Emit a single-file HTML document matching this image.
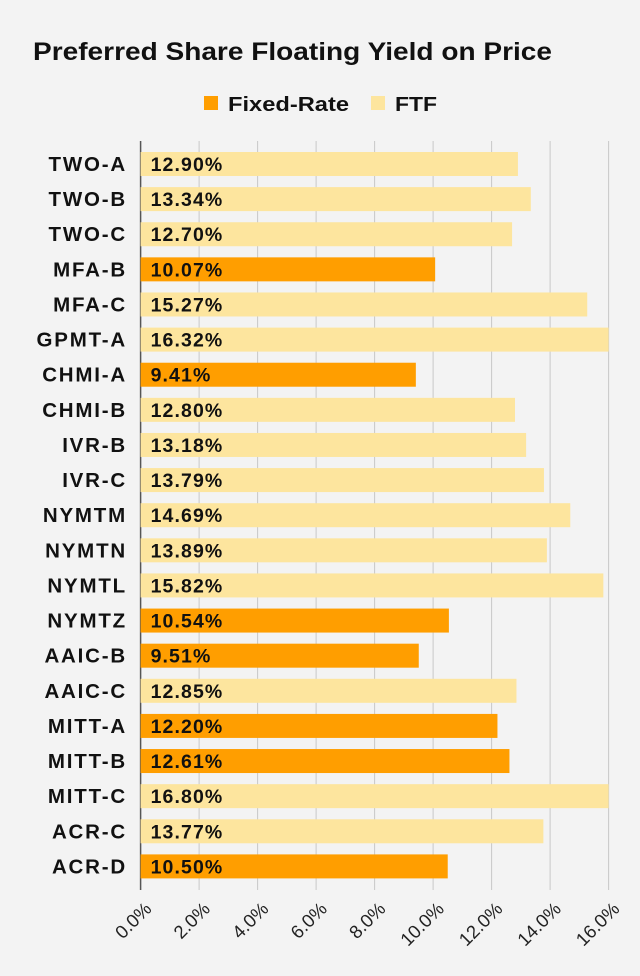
<!DOCTYPE html>
<html><head><meta charset="utf-8"><style>
body{margin:0;background:#f3f3f3;}
svg{display:block;font-family:"Liberation Sans",sans-serif;}
</style></head><body>
<svg width="640" height="976">
<rect width="640" height="976" fill="#f3f3f3"/>
<text x="33" y="60" font-size="25" font-weight="bold" fill="#111" textLength="519" lengthAdjust="spacingAndGlyphs">Preferred Share Floating Yield on Price</text>
<g>
<g><rect x="204" y="96" width="14" height="14" fill="#ff9e00"/><text x="228" y="111" font-size="20" font-weight="bold" fill="#111" textLength="121" lengthAdjust="spacingAndGlyphs">Fixed-Rate</text></g>
<g><rect x="371" y="96" width="14" height="14" fill="#fde59e"/><text x="395" y="111" font-size="20" font-weight="bold" fill="#111" textLength="42" lengthAdjust="spacingAndGlyphs">FTF</text></g>
</g>
<g id="grid"></g><g id="bars"></g><g id="axis"></g>
</svg>
<script>
const categories=["TWO-A","TWO-B","TWO-C","MFA-B","MFA-C","GPMT-A","CHMI-A","CHMI-B","IVR-B","IVR-C","NYMTM","NYMTN","NYMTL","NYMTZ","AAIC-B","AAIC-C","MITT-A","MITT-B","MITT-C","ACR-C","ACR-D"];
const values=[12.90,13.34,12.70,10.07,15.27,16.32,9.41,12.80,13.18,13.79,14.69,13.89,15.82,10.54,9.51,12.85,12.20,12.61,16.80,13.77,10.50];
const types=["FTF","FTF","FTF","Fixed","FTF","FTF","Fixed","FTF","FTF","FTF","FTF","FTF","FTF","Fixed","Fixed","FTF","Fixed","Fixed","FTF","FTF","Fixed"];
const ticks=[0,2,4,6,8,10,12,14,16];
const tickLabels=["0.0%","2.0%","4.0%","6.0%","8.0%","10.0%","12.0%","14.0%","16.0%"];
const NS="http://www.w3.org/2000/svg";
const x0=140.6,x1=608.6,xmax=16;
const xs=v=>x0+Math.min(v,xmax)/xmax*(x1-x0);
const yc=i=>164+i*35.12;
function mk(t,a,p){const e=document.createElementNS(NS,t);for(const k in a)e.setAttribute(k,a[k]);p.appendChild(e);return e;}
const grid=document.getElementById('grid'),bars=document.getElementById('bars'),axis=document.getElementById('axis');
ticks.forEach((t,i)=>{
 const l=mk('line',{x1:xs(t),x2:xs(t),y1:141,y2:890,stroke:i==0?'#555':'#c8c8c8','stroke-width':i==0?1.5:1},grid);
 
 
 const tx=xs(t)+12,ty=910;
 const tl=mk('text',{x:tx,y:ty,'font-size':18.5,fill:'#222','text-anchor':'end',transform:`rotate(-45 ${tx} ${ty})`},axis);
 tl.textContent=tickLabels[i];
 
 
});
categories.forEach((c,i)=>{
 const y=yc(i);
 const r=mk('rect',{x:x0,y:y-12,width:xs(values[i])-x0,height:24,fill:types[i]=="Fixed"?'#ff9e00':'#fde59e'},bars);
 
 
 const v=mk('text',{x:x0+10,y:y+7,'font-size':19.5,'font-weight':'bold',fill:'#111','letter-spacing':1.1},bars);
 v.textContent=values[i].toFixed(2)+'%';
 
 
 const lb=mk('text',{x:127,y:y+7,'font-size':20.5,'font-weight':'bold',fill:'#111','text-anchor':'end','letter-spacing':1.8},axis);
 lb.textContent=c;
 
 
});
</script>
</body></html>
